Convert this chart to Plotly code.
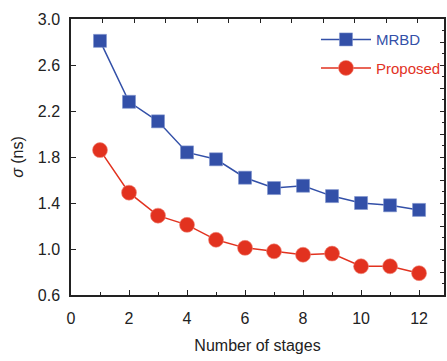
import plotly.graph_objects as go

# Number of stages on the x axis
stages = [1, 2, 3, 4, 5, 6, 7, 8, 9, 10, 11, 12]
# Standard deviation (ns) per scheme
sigma_mrbd = [2.81, 2.28, 2.11, 1.84, 1.78, 1.62, 1.53, 1.55, 1.46, 1.40, 1.38, 1.34]
sigma_proposed = [1.86, 1.49, 1.29, 1.21, 1.08, 1.01, 0.98, 0.95, 0.96, 0.85, 0.85, 0.79]

x_ticks = [0, 2, 4, 6, 8, 10, 12]
y_ticks = [0.6, 1.0, 1.4, 1.8, 2.2, 2.6, 3.0]

BLUE = "#3350a8"
RED = "#e2321f"
FONT = "Liberation Sans, Arial, sans-serif"
INK = "#222222"

fig = go.Figure()
fig.add_trace(go.Scatter(
    x=stages, y=sigma_mrbd, mode="lines+markers",
    name=f"<span style='color:{BLUE}'>MRBD</span>",
    legendgroup="a",
    line=dict(color=BLUE, width=1.5),
    marker=dict(symbol="square", size=13, color=BLUE,
                line=dict(color="#7f93cc", width=0.6)),
))
fig.add_trace(go.Scatter(
    x=stages, y=sigma_proposed, mode="lines+markers",
    name=f"<span style='color:{RED}'>Proposed</span>",
    legendgroup="b",
    line=dict(color=RED, width=1.5),
    marker=dict(symbol="circle", size=15, color=RED,
                line=dict(color="#f08a7c", width=0.6)),
))

# invisible helper traces for the secondary top and right tick axes
fig.add_trace(go.Scatter(x=[0], y=[0.6], xaxis="x2", yaxis="y2",
                         mode="markers", marker=dict(opacity=0),
                         showlegend=False, hoverinfo="skip"))

fig.update_layout(
    width=447, height=361,
    margin=dict(l=71, r=2, t=19, b=66),
    paper_bgcolor="white", plot_bgcolor="white",
    font=dict(family=FONT, size=16, color=INK),
    showlegend=True,
    legend=dict(
        x=0.655, y=0.985, xanchor="left", yanchor="top",
        bgcolor="rgba(0,0,0,0)", borderwidth=0,
        font=dict(family=FONT, size=15),
        traceorder="grouped", tracegroupgap=6,
        itemwidth=50,
    ),
    xaxis=dict(
        range=[0, 12.86], tickvals=x_ticks,
        ticks="inside", ticklen=5, tickwidth=1.2, tickcolor=INK,
        minor=dict(dtick=1, tick0=0, ticks="inside", ticklen=3, tickcolor=INK),
        showline=True, linecolor=INK, linewidth=1.5,
        showgrid=False, zeroline=False,
        ticklabelstandoff=8,
        title=dict(text="Number of stages", standoff=14,
                   font=dict(size=16)),
    ),
    yaxis=dict(
        range=[0.6, 3.0], tickvals=y_ticks, ticktext=[f"{v:.1f}" for v in y_ticks],
        ticks="inside", ticklen=5, tickwidth=1.2, tickcolor=INK,
        showline=True, linecolor=INK, linewidth=1.5,
        showgrid=False, zeroline=False,
        ticklabelstandoff=6,
        title=dict(text="<i>σ</i> (ns)", standoff=10, font=dict(size=16)),
    ),
    xaxis2=dict(
        overlaying="x", side="top", range=[0, 11.84], dtick=1, tick0=0,
        ticks="inside", ticklen=4, tickwidth=1.2, tickcolor=INK,
        showticklabels=False, showline=True, linecolor=INK, linewidth=1.5,
        showgrid=False, zeroline=False,
    ),
    yaxis2=dict(
        overlaying="y", side="right", range=[0.6, 3.0], dtick=0.2, tick0=0.6,
        ticks="inside", ticklen=4, tickwidth=1.2, tickcolor=INK,
        minor=dict(dtick=0.1, tick0=0.6, ticks="inside", ticklen=2, tickcolor=INK),
        showticklabels=False, showline=True, linecolor=INK, linewidth=1.5,
        showgrid=False, zeroline=False,
    ),
)

fig.write_html("out.html")
